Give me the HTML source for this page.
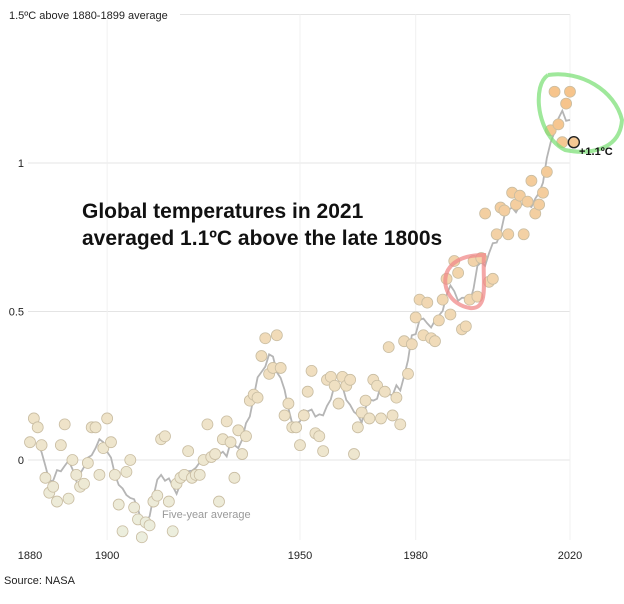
<!DOCTYPE html>
<html><head><meta charset="utf-8"><style>
body{margin:0;background:#fff;font-family:"Liberation Sans",sans-serif}
</style></head><body>
<svg id="chart" width="624" height="599" xmlns="http://www.w3.org/2000/svg" font-family="Liberation Sans, sans-serif">
<g id="grid"></g>
<g id="axes"></g>
<g id="line"></g>
<g id="pts"></g>
<text x="9" y="19" font-size="11" fill="#222">1.5ºC above 1880-1899 average</text>
<text x="82" y="218" font-size="21" font-weight="bold" fill="#111">Global temperatures in 2021</text>
<text x="82" y="245" font-size="21" font-weight="bold" fill="#111">averaged 1.1ºC above the late 1800s</text>
<text x="162" y="518" font-size="11" fill="#999">Five-year average</text>
<path d="M448,270 C440,285 450,305 470,308 C490,310 482,280 484,255 C470,255 455,258 448,270" fill="none" stroke="#f08a8a" stroke-width="4" opacity="0.75"/>
<path d="M548,75 C580,70 615,90 622,120 C620,150 590,155 565,150 C545,140 535,110 540,88 C542,80 545,77 548,75" fill="none" stroke="#7fe07a" stroke-width="4" opacity="0.75"/>
<text x="579" y="155" font-size="11" font-weight="bold" fill="#111">+1.1ºC</text>
<text x="4" y="584" font-size="11" fill="#222">Source: NASA</text>
</svg>
<script>
const years=[];for(let y=1880;y<=2021;y++)years.push(y);
const anomalies=[0.06,0.14,0.11,0.05,-0.06,-0.11,-0.09,-0.14,0.05,0.12,
-0.13,0.00,-0.05,-0.09,-0.08,-0.01,0.11,0.11,-0.05,0.04,
0.14,0.06,-0.05,-0.15,-0.24,-0.04,0.00,-0.16,-0.20,-0.26,
-0.21,-0.22,-0.14,-0.12,0.07,0.08,-0.14,-0.24,-0.08,-0.06,
-0.05,0.03,-0.06,-0.05,-0.05,0.00,0.12,0.01,0.02,-0.14,
0.07,0.13,0.06,-0.06,0.10,0.02,0.08,0.20,0.22,0.21,
0.35,0.41,0.29,0.31,0.42,0.31,0.15,0.19,0.11,0.11,
0.05,0.15,0.23,0.30,0.09,0.08,0.03,0.27,0.28,0.25,
0.19,0.28,0.25,0.27,0.02,0.11,0.16,0.20,0.14,0.27,
0.25,0.14,0.23,0.38,0.15,0.21,0.12,0.40,0.29,0.39,
0.48,0.54,0.42,0.53,0.41,0.40,0.47,0.54,0.61,0.49,
0.67,0.63,0.44,0.45,0.54,0.67,0.55,0.68,0.83,0.60,
0.61,0.76,0.85,0.84,0.76,0.90,0.86,0.89,0.76,0.87,
0.94,0.83,0.86,0.90,0.97,1.11,1.24,1.13,1.07,1.20,
1.24,1.07];
const yTicks=[0,0.5,1,1.5];
const yTickLabels=["0","0.5","1",""];
const xTicks=[1880,1900,1950,1980,2020];
const NS="http://www.w3.org/2000/svg";
const X=y=>30+(y-1880)*3.857;
const Y=v=>460-v*297;
function mk(tag,attrs,parent){const e=document.createElementNS(NS,tag);for(const k in attrs)e.setAttribute(k,attrs[k]);parent.appendChild(e);return e;}
const grid=document.getElementById('grid'),axes=document.getElementById('axes');
yTicks.forEach((t,i)=>{
 const l=mk('line',{x1:i==3?180:28,x2:570,y1:Y(t),y2:Y(t),stroke:'#e4e4e4','stroke-width':1},grid);
 
 
 if(yTickLabels[i]){const tx=mk('text',{x:24,y:Y(t)+4,'font-size':11,'text-anchor':'end',fill:'#222'},axes);tx.textContent=yTickLabels[i];
 
 }
});
xTicks.forEach(t=>{
 if(t!==1880){const l=mk('line',{x1:X(t),x2:X(t),y1:Y(1.5),y2:540,stroke:'#f0f0f0','stroke-width':1},grid);
 
 }
 const tx=mk('text',{x:X(t),y:559,'font-size':11,'text-anchor':'middle',fill:'#222'},axes);tx.textContent=t;
 
 
});
let d='';
for(let i=2;i<anomalies.length-1;i++){const w=anomalies.slice(i-2,Math.min(i+3,anomalies.length));const m=w.reduce((a,b)=>a+b,0)/w.length;d+=(d?'L':'M')+X(years[i]).toFixed(1)+','+Y(m).toFixed(1);}
const p=mk('path',{d:d,fill:'none',stroke:'#b5b5b5','stroke-width':1.8},document.getElementById('line'));


const pts=document.getElementById('pts');
function col(v){const t=Math.max(0,Math.min(1,(v+0.25)/1.45));const a=[236,238,222],b=[246,196,140];return 'rgb('+a.map((c,i)=>Math.round(c+(b[i]-c)*t)).join(',')+')';}
anomalies.forEach((v,i)=>{
 const last=i===anomalies.length-1;
 const c=mk('circle',{cx:X(years[i]),cy:Y(v),r:5.5,fill:col(v),stroke:last?'#222':'#c9bda2','stroke-width':last?1.4:0.8},pts);
 
 
});
</script>
</body></html>
